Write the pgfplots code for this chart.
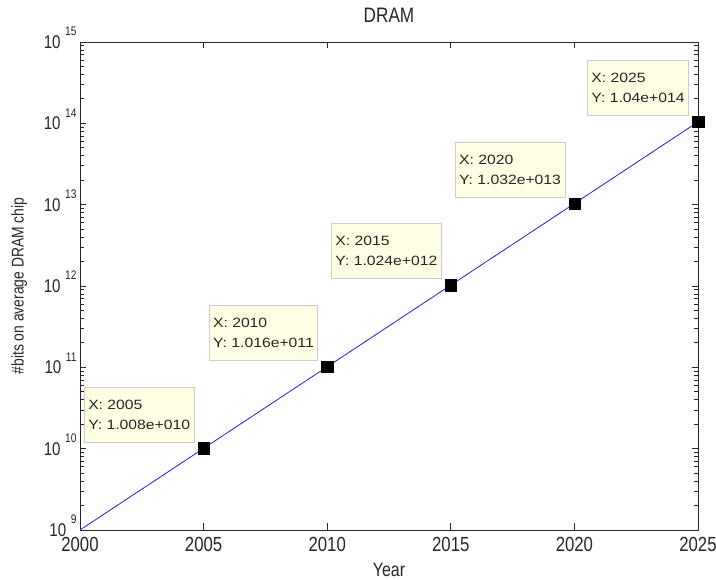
\documentclass[border=0pt]{standalone}
\usepackage{fontspec}
\setmainfont{Liberation Sans}[FakeStretch=0.82]
\newfontfamily\tipfont{Liberation Sans}[FakeStretch=1.17]
\usepackage{pgfplots}
\pgfplotsset{compat=1.18}
\definecolor{tipfill}{RGB}{255,255,228}
\definecolor{tipedge}{RGB}{205,205,205}
\newcommand\lt[1]{10\hspace{4.5bp}\raisebox{12.5bp}{\fontsize{12.5}{12.5}\selectfont #1}}
\begin{document}
\begin{tikzpicture}[
  tip/.style={anchor=south east, xshift=-9bp, yshift=6bp, draw=tipedge, fill=tipfill,
    line width=0.8bp, align=left, font=\tipfont\fontsize{13.5}{20}\selectfont,
    inner xsep=4bp, inner ysep=3bp, minimum height=55bp, text=black!85}]
\begin{axis}[
  scale only axis, width=618bp, height=488bp,
  xmin=2000, xmax=2025, ymode=log, ymin=1e9, ymax=1e15,
  xtick={2000,2005,2010,2015,2020,2025},
  xticklabels={2000,2005,2010,2015,2020,2025},
  ytick={1e9,1e10,1e11,1e12,1e13,1e14,1e15},
  yticklabels={\lt{9},\lt{10},\lt{11},\lt{12},\lt{13},\lt{14},\lt{15}},
  minor ytick={2e9,3e9,4e9,5e9,6e9,7e9,8e9,9e9,
               2e10,3e10,4e10,5e10,6e10,7e10,8e10,9e10,
               2e11,3e11,4e11,5e11,6e11,7e11,8e11,9e11,
               2e12,3e12,4e12,5e12,6e12,7e12,8e12,9e12,
               2e13,3e13,4e13,5e13,6e13,7e13,8e13,9e13,
               2e14,3e14,4e14,5e14,6e14,7e14,8e14,9e14},
  tick align=inside, major tick length=6.5bp, minor tick length=4bp,
  tick pos=both,
  axis line style={draw=black!85, line width=0.9bp},
  every tick/.style={draw=black!85, line width=0.7bp},
  xticklabel style={font=\fontsize{20.5}{20.5}\selectfont, text=black!85, inner ysep=0pt, yshift=-7.5bp},
  yticklabel style={font=\fontsize{18.5}{18.5}\selectfont, text=black!85, anchor=base east, inner ysep=0pt, yshift=-6.5bp},
  title={DRAM},
  title style={at={(axis description cs:0.5,1.043)}, anchor=center, font=\fontsize{21}{21}\selectfont, text=black!85},
  xlabel={Year},
  xlabel style={at={(axis description cs:0.5,-0.082)}, anchor=center, font=\fontsize{19.5}{19.5}\selectfont, text=black!85},
  ylabel={\#bits on average DRAM chip},
  ylabel style={at={(axis description cs:-0.0984,0.5)}, anchor=center, font=\fontsize{17}{17}\selectfont, text=black!85},
  clip=false,
]
\addplot[color={rgb,255:red,30;green,30;blue,220}, line width=0.8bp, no marks]
  coordinates {(2000,1e9) (2005,1.008e10) (2010,1.016e11) (2015,1.024e12) (2020,1.032e13) (2025,1.04e14)};
\addplot[only marks, mark=square*, mark size=5.7bp, black]
  coordinates {(2005,1.008e10) (2010,1.016e11) (2015,1.024e12) (2020,1.032e13) (2025,1.04e14)};
\node[tip] at (axis cs:2005,1.008e10) {X: 2005\\Y: 1.008e+010};
\node[tip] at (axis cs:2010,1.016e11) {X: 2010\\Y: 1.016e+011};
\node[tip] at (axis cs:2015,1.024e12) {X: 2015\\Y: 1.024e+012};
\node[tip] at (axis cs:2020,1.032e13) {X: 2020\\Y: 1.032e+013};
\node[tip] at (axis cs:2025,1.04e14) {X: 2025\\Y: 1.04e+014};
\end{axis}
\pgfresetboundingbox
\path[use as bounding box] ([shift={(-80bp,-50bp)}]current axis.south west) rectangle ([shift={(18bp,42bp)}]current axis.north east);
\end{tikzpicture}
\end{document}
